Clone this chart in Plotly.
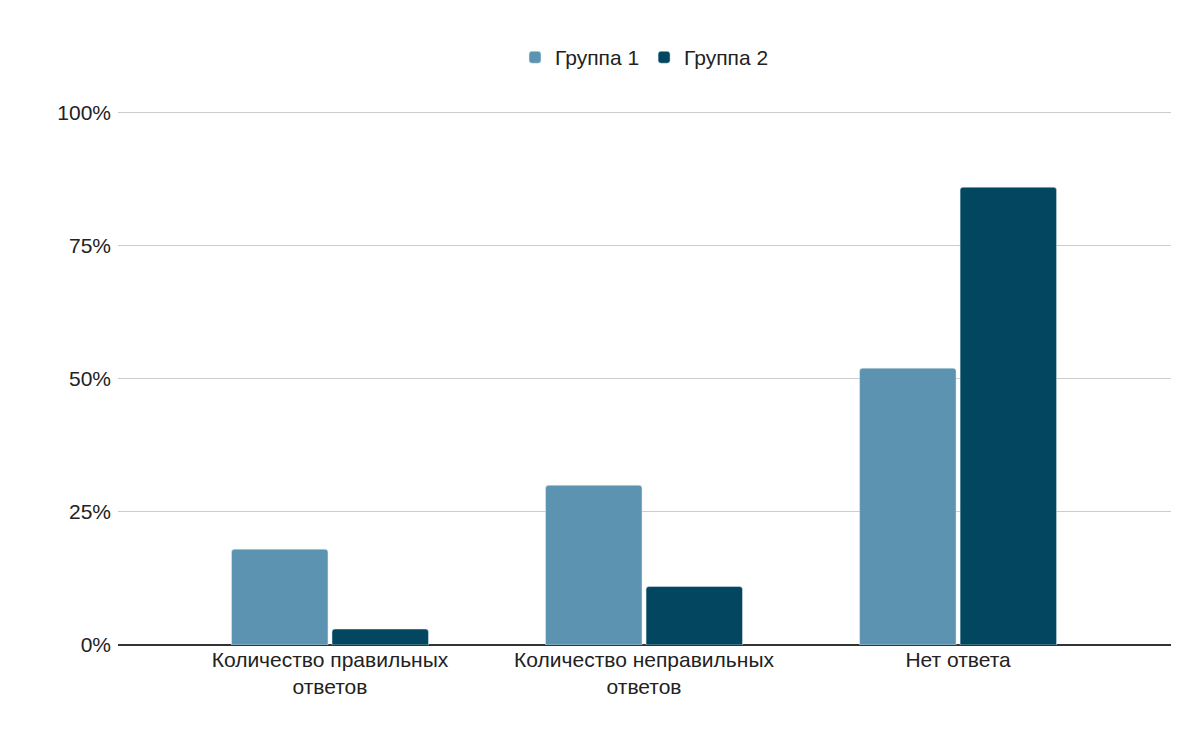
import plotly.graph_objects as go

categories = ["Количество правильных<br>ответов", "Количество неправильных<br>ответов", "Нет ответа"]
group1 = [18, 30, 52]
group2 = [3, 11, 86]

fig = go.Figure()
fig.add_bar(name="Группа 1", x=categories, y=group1, marker_color="#5b93b0")
fig.add_bar(name="Группа 2", x=categories, y=group2, marker_color="#02475f")
fig.update_layout(
    width=1200, height=742,
    paper_bgcolor="white", plot_bgcolor="white",
    font=dict(family="Liberation Sans, Arial", size=21, color="#222"),
    margin=dict(l=110, r=37, t=103, b=105, autoexpand=False),
    barmode="group", bargap=0.36, bargroupgap=0.04, barcornerradius=3,
    legend=dict(orientation="h", x=0.5, xanchor="center", y=1.1, yanchor="middle",
                font=dict(size=21)),
    xaxis=dict(range=[-0.675, 2.678], showgrid=False, ticks="", automargin=False,
               tickfont=dict(size=21)),
    yaxis=dict(range=[0, 100.3], dtick=25, ticksuffix="%", gridcolor="#cccccc",
               automargin=False, ticklabelstandoff=6,
               zeroline=True, zerolinecolor="#333", zerolinewidth=1.5, tickfont=dict(size=21)),
)
fig.write_html("out.html")
